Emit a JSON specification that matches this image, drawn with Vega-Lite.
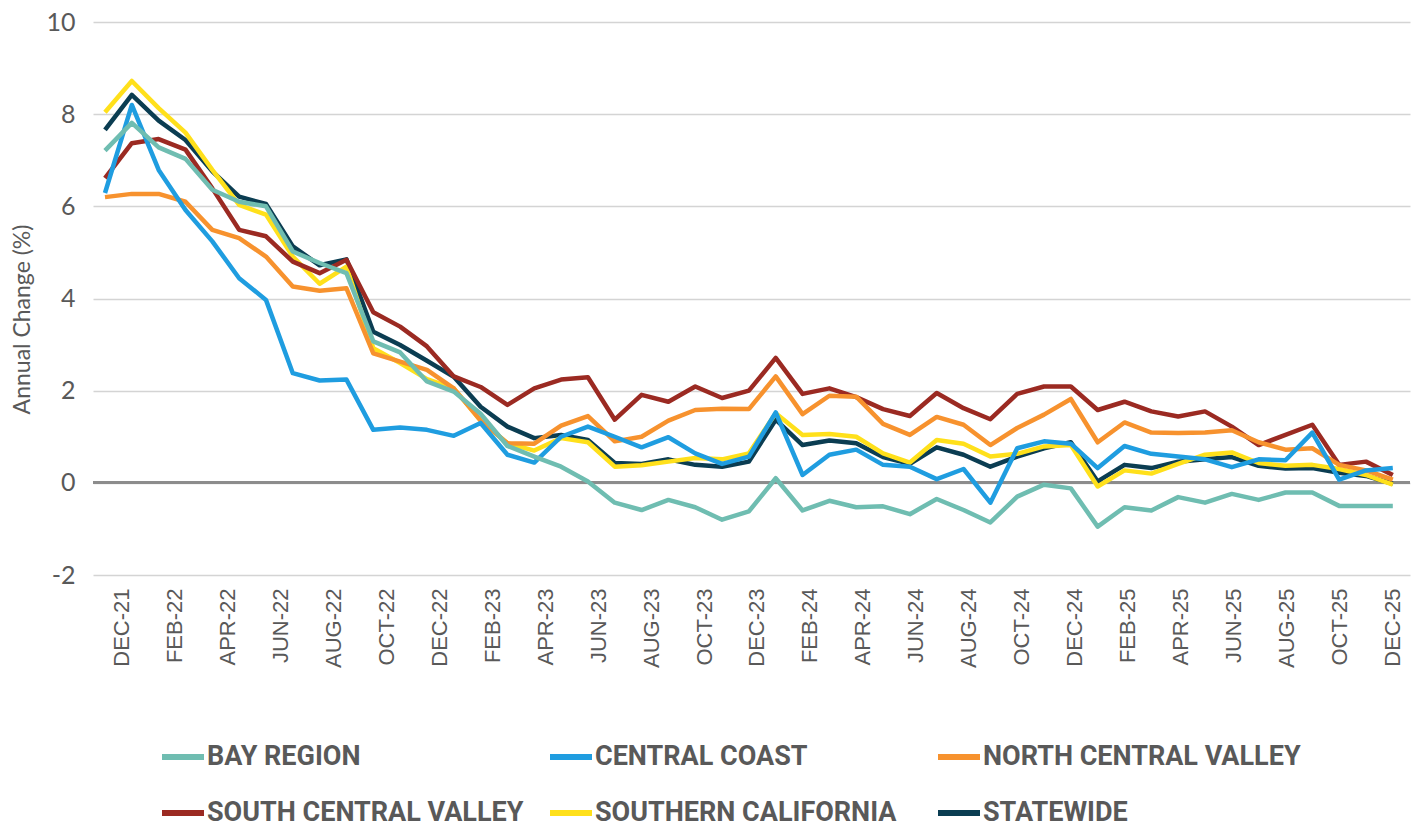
{
  "$schema": "https://vega.github.io/schema/vega-lite/v6.json",
  "width": 1317,
  "height": 553,
  "autosize": {"type": "none"},
  "padding": {"left": 93, "top": 22, "right": 4, "bottom": 253},
  "background": "white",
  "config": {"view": {"stroke": null}, "font": "Lato"},
  "datasets": {
    "rows": [
      {"i": 0, "month": "DEC-21", "BAY REGION": 7.21, "CENTRAL COAST": 6.29, "NORTH CENTRAL VALLEY": 6.2, "SOUTH CENTRAL VALLEY": 6.61, "SOUTHERN CALIFORNIA": 8.04, "STATEWIDE": 7.66},
      {"i": 1, "month": "JAN-22", "BAY REGION": 7.81, "CENTRAL COAST": 8.2, "NORTH CENTRAL VALLEY": 6.27, "SOUTH CENTRAL VALLEY": 7.37, "SOUTHERN CALIFORNIA": 8.72, "STATEWIDE": 8.42},
      {"i": 2, "month": "FEB-22", "BAY REGION": 7.28, "CENTRAL COAST": 6.79, "NORTH CENTRAL VALLEY": 6.27, "SOUTH CENTRAL VALLEY": 7.46, "SOUTHERN CALIFORNIA": 8.13, "STATEWIDE": 7.86},
      {"i": 3, "month": "MAR-22", "BAY REGION": 7.03, "CENTRAL COAST": 5.92, "NORTH CENTRAL VALLEY": 6.1, "SOUTH CENTRAL VALLEY": 7.23, "SOUTHERN CALIFORNIA": 7.6, "STATEWIDE": 7.44},
      {"i": 4, "month": "APR-22", "BAY REGION": 6.36, "CENTRAL COAST": 5.24, "NORTH CENTRAL VALLEY": 5.49, "SOUTH CENTRAL VALLEY": 6.39, "SOUTHERN CALIFORNIA": 6.79, "STATEWIDE": 6.76},
      {"i": 5, "month": "MAY-22", "BAY REGION": 6.1, "CENTRAL COAST": 4.44, "NORTH CENTRAL VALLEY": 5.31, "SOUTH CENTRAL VALLEY": 5.49, "SOUTHERN CALIFORNIA": 6.03, "STATEWIDE": 6.21},
      {"i": 6, "month": "JUN-22", "BAY REGION": 6.0, "CENTRAL COAST": 3.97, "NORTH CENTRAL VALLEY": 4.91, "SOUTH CENTRAL VALLEY": 5.35, "SOUTHERN CALIFORNIA": 5.82, "STATEWIDE": 6.05},
      {"i": 7, "month": "JUL-22", "BAY REGION": 5.02, "CENTRAL COAST": 2.38, "NORTH CENTRAL VALLEY": 4.26, "SOUTH CENTRAL VALLEY": 4.8, "SOUTHERN CALIFORNIA": 4.91, "STATEWIDE": 5.13},
      {"i": 8, "month": "AUG-22", "BAY REGION": 4.77, "CENTRAL COAST": 2.22, "NORTH CENTRAL VALLEY": 4.17, "SOUTH CENTRAL VALLEY": 4.55, "SOUTHERN CALIFORNIA": 4.32, "STATEWIDE": 4.72},
      {"i": 9, "month": "SEP-22", "BAY REGION": 4.55, "CENTRAL COAST": 2.24, "NORTH CENTRAL VALLEY": 4.22, "SOUTH CENTRAL VALLEY": 4.84, "SOUTHERN CALIFORNIA": 4.69, "STATEWIDE": 4.85},
      {"i": 10, "month": "OCT-22", "BAY REGION": 3.07, "CENTRAL COAST": 1.15, "NORTH CENTRAL VALLEY": 2.81, "SOUTH CENTRAL VALLEY": 3.7, "SOUTHERN CALIFORNIA": 2.92, "STATEWIDE": 3.28},
      {"i": 11, "month": "NOV-22", "BAY REGION": 2.83, "CENTRAL COAST": 1.2, "NORTH CENTRAL VALLEY": 2.63, "SOUTH CENTRAL VALLEY": 3.39, "SOUTHERN CALIFORNIA": 2.6, "STATEWIDE": 2.99},
      {"i": 12, "month": "DEC-22", "BAY REGION": 2.2, "CENTRAL COAST": 1.15, "NORTH CENTRAL VALLEY": 2.45, "SOUTH CENTRAL VALLEY": 2.96, "SOUTHERN CALIFORNIA": 2.25, "STATEWIDE": 2.65},
      {"i": 13, "month": "JAN-23", "BAY REGION": 1.98, "CENTRAL COAST": 1.02, "NORTH CENTRAL VALLEY": 2.05, "SOUTH CENTRAL VALLEY": 2.31, "SOUTHERN CALIFORNIA": 2.05, "STATEWIDE": 2.3},
      {"i": 14, "month": "FEB-23", "BAY REGION": 1.5, "CENTRAL COAST": 1.3, "NORTH CENTRAL VALLEY": 1.35, "SOUTH CENTRAL VALLEY": 2.08, "SOUTHERN CALIFORNIA": 1.35, "STATEWIDE": 1.65},
      {"i": 15, "month": "MAR-23", "BAY REGION": 0.8, "CENTRAL COAST": 0.61, "NORTH CENTRAL VALLEY": 0.86, "SOUTH CENTRAL VALLEY": 1.69, "SOUTHERN CALIFORNIA": 0.86, "STATEWIDE": 1.22},
      {"i": 16, "month": "APR-23", "BAY REGION": 0.57, "CENTRAL COAST": 0.44, "NORTH CENTRAL VALLEY": 0.85, "SOUTH CENTRAL VALLEY": 2.05, "SOUTHERN CALIFORNIA": 0.7, "STATEWIDE": 0.97},
      {"i": 17, "month": "MAY-23", "BAY REGION": 0.35, "CENTRAL COAST": 1.0, "NORTH CENTRAL VALLEY": 1.24, "SOUTH CENTRAL VALLEY": 2.24, "SOUTHERN CALIFORNIA": 0.97, "STATEWIDE": 1.04},
      {"i": 18, "month": "JUN-23", "BAY REGION": 0.03, "CENTRAL COAST": 1.22, "NORTH CENTRAL VALLEY": 1.45, "SOUTH CENTRAL VALLEY": 2.29, "SOUTHERN CALIFORNIA": 0.88, "STATEWIDE": 0.93},
      {"i": 19, "month": "JUL-23", "BAY REGION": -0.43, "CENTRAL COAST": 1.0, "NORTH CENTRAL VALLEY": 0.9, "SOUTH CENTRAL VALLEY": 1.37, "SOUTHERN CALIFORNIA": 0.35, "STATEWIDE": 0.43},
      {"i": 20, "month": "AUG-23", "BAY REGION": -0.59, "CENTRAL COAST": 0.77, "NORTH CENTRAL VALLEY": 1.0, "SOUTH CENTRAL VALLEY": 1.91, "SOUTHERN CALIFORNIA": 0.38, "STATEWIDE": 0.41},
      {"i": 21, "month": "SEP-23", "BAY REGION": -0.37, "CENTRAL COAST": 0.99, "NORTH CENTRAL VALLEY": 1.35, "SOUTH CENTRAL VALLEY": 1.76, "SOUTHERN CALIFORNIA": 0.46, "STATEWIDE": 0.51},
      {"i": 22, "month": "OCT-23", "BAY REGION": -0.53, "CENTRAL COAST": 0.64, "NORTH CENTRAL VALLEY": 1.58, "SOUTH CENTRAL VALLEY": 2.09, "SOUTHERN CALIFORNIA": 0.54, "STATEWIDE": 0.39},
      {"i": 23, "month": "NOV-23", "BAY REGION": -0.8, "CENTRAL COAST": 0.41, "NORTH CENTRAL VALLEY": 1.61, "SOUTH CENTRAL VALLEY": 1.84, "SOUTHERN CALIFORNIA": 0.51, "STATEWIDE": 0.35},
      {"i": 24, "month": "DEC-23", "BAY REGION": -0.62, "CENTRAL COAST": 0.57, "NORTH CENTRAL VALLEY": 1.6, "SOUTH CENTRAL VALLEY": 2.0, "SOUTHERN CALIFORNIA": 0.64, "STATEWIDE": 0.46},
      {"i": 25, "month": "JAN-24", "BAY REGION": 0.1, "CENTRAL COAST": 1.53, "NORTH CENTRAL VALLEY": 2.31, "SOUTH CENTRAL VALLEY": 2.71, "SOUTHERN CALIFORNIA": 1.51, "STATEWIDE": 1.37},
      {"i": 26, "month": "FEB-24", "BAY REGION": -0.6, "CENTRAL COAST": 0.17, "NORTH CENTRAL VALLEY": 1.49, "SOUTH CENTRAL VALLEY": 1.93, "SOUTHERN CALIFORNIA": 1.04, "STATEWIDE": 0.82},
      {"i": 27, "month": "MAR-24", "BAY REGION": -0.39, "CENTRAL COAST": 0.61, "NORTH CENTRAL VALLEY": 1.89, "SOUTH CENTRAL VALLEY": 2.05, "SOUTHERN CALIFORNIA": 1.06, "STATEWIDE": 0.92},
      {"i": 28, "month": "APR-24", "BAY REGION": -0.53, "CENTRAL COAST": 0.72, "NORTH CENTRAL VALLEY": 1.87, "SOUTH CENTRAL VALLEY": 1.86, "SOUTHERN CALIFORNIA": 1.0, "STATEWIDE": 0.86},
      {"i": 29, "month": "MAY-24", "BAY REGION": -0.51, "CENTRAL COAST": 0.39, "NORTH CENTRAL VALLEY": 1.28, "SOUTH CENTRAL VALLEY": 1.6, "SOUTHERN CALIFORNIA": 0.64, "STATEWIDE": 0.56},
      {"i": 30, "month": "JUN-24", "BAY REGION": -0.68, "CENTRAL COAST": 0.35, "NORTH CENTRAL VALLEY": 1.04, "SOUTH CENTRAL VALLEY": 1.45, "SOUTHERN CALIFORNIA": 0.44, "STATEWIDE": 0.41},
      {"i": 31, "month": "JUL-24", "BAY REGION": -0.35, "CENTRAL COAST": 0.08, "NORTH CENTRAL VALLEY": 1.43, "SOUTH CENTRAL VALLEY": 1.95, "SOUTHERN CALIFORNIA": 0.93, "STATEWIDE": 0.77},
      {"i": 32, "month": "AUG-24", "BAY REGION": -0.59, "CENTRAL COAST": 0.3, "NORTH CENTRAL VALLEY": 1.26, "SOUTH CENTRAL VALLEY": 1.62, "SOUTHERN CALIFORNIA": 0.85, "STATEWIDE": 0.61},
      {"i": 33, "month": "SEP-24", "BAY REGION": -0.86, "CENTRAL COAST": -0.43, "NORTH CENTRAL VALLEY": 0.82, "SOUTH CENTRAL VALLEY": 1.38, "SOUTHERN CALIFORNIA": 0.57, "STATEWIDE": 0.35},
      {"i": 34, "month": "OCT-24", "BAY REGION": -0.3, "CENTRAL COAST": 0.75, "NORTH CENTRAL VALLEY": 1.19, "SOUTH CENTRAL VALLEY": 1.93, "SOUTHERN CALIFORNIA": 0.63, "STATEWIDE": 0.57},
      {"i": 35, "month": "NOV-24", "BAY REGION": -0.04, "CENTRAL COAST": 0.9, "NORTH CENTRAL VALLEY": 1.48, "SOUTH CENTRAL VALLEY": 2.09, "SOUTHERN CALIFORNIA": 0.79, "STATEWIDE": 0.75},
      {"i": 36, "month": "DEC-24", "BAY REGION": -0.12, "CENTRAL COAST": 0.85, "NORTH CENTRAL VALLEY": 1.82, "SOUTH CENTRAL VALLEY": 2.09, "SOUTHERN CALIFORNIA": 0.82, "STATEWIDE": 0.88},
      {"i": 37, "month": "JAN-25", "BAY REGION": -0.95, "CENTRAL COAST": 0.32, "NORTH CENTRAL VALLEY": 0.88, "SOUTH CENTRAL VALLEY": 1.58, "SOUTHERN CALIFORNIA": -0.08, "STATEWIDE": 0.03},
      {"i": 38, "month": "FEB-25", "BAY REGION": -0.53, "CENTRAL COAST": 0.8, "NORTH CENTRAL VALLEY": 1.31, "SOUTH CENTRAL VALLEY": 1.76, "SOUTHERN CALIFORNIA": 0.27, "STATEWIDE": 0.39},
      {"i": 39, "month": "MAR-25", "BAY REGION": -0.6, "CENTRAL COAST": 0.63, "NORTH CENTRAL VALLEY": 1.09, "SOUTH CENTRAL VALLEY": 1.55, "SOUTHERN CALIFORNIA": 0.2, "STATEWIDE": 0.32},
      {"i": 40, "month": "APR-25", "BAY REGION": -0.31, "CENTRAL COAST": 0.57, "NORTH CENTRAL VALLEY": 1.08, "SOUTH CENTRAL VALLEY": 1.44, "SOUTHERN CALIFORNIA": 0.41, "STATEWIDE": 0.46},
      {"i": 41, "month": "MAY-25", "BAY REGION": -0.43, "CENTRAL COAST": 0.51, "NORTH CENTRAL VALLEY": 1.09, "SOUTH CENTRAL VALLEY": 1.55, "SOUTHERN CALIFORNIA": 0.61, "STATEWIDE": 0.51},
      {"i": 42, "month": "JUN-25", "BAY REGION": -0.24, "CENTRAL COAST": 0.34, "NORTH CENTRAL VALLEY": 1.14, "SOUTH CENTRAL VALLEY": 1.22, "SOUTHERN CALIFORNIA": 0.66, "STATEWIDE": 0.56},
      {"i": 43, "month": "JUL-25", "BAY REGION": -0.37, "CENTRAL COAST": 0.51, "NORTH CENTRAL VALLEY": 0.88, "SOUTH CENTRAL VALLEY": 0.82, "SOUTHERN CALIFORNIA": 0.43, "STATEWIDE": 0.37},
      {"i": 44, "month": "AUG-25", "BAY REGION": -0.21, "CENTRAL COAST": 0.49, "NORTH CENTRAL VALLEY": 0.72, "SOUTH CENTRAL VALLEY": 1.04, "SOUTHERN CALIFORNIA": 0.37, "STATEWIDE": 0.31},
      {"i": 45, "month": "SEP-25", "BAY REGION": -0.21, "CENTRAL COAST": 1.09, "NORTH CENTRAL VALLEY": 0.75, "SOUTH CENTRAL VALLEY": 1.26, "SOUTHERN CALIFORNIA": 0.39, "STATEWIDE": 0.32},
      {"i": 46, "month": "OCT-25", "BAY REGION": -0.5, "CENTRAL COAST": 0.07, "NORTH CENTRAL VALLEY": 0.39, "SOUTH CENTRAL VALLEY": 0.39, "SOUTHERN CALIFORNIA": 0.3, "STATEWIDE": 0.22},
      {"i": 47, "month": "NOV-25", "BAY REGION": -0.5, "CENTRAL COAST": 0.27, "NORTH CENTRAL VALLEY": 0.27, "SOUTH CENTRAL VALLEY": 0.46, "SOUTHERN CALIFORNIA": 0.17, "STATEWIDE": 0.15},
      {"i": 48, "month": "DEC-25", "BAY REGION": -0.5, "CENTRAL COAST": 0.32, "NORTH CENTRAL VALLEY": 0.07, "SOUTH CENTRAL VALLEY": 0.17, "SOUTHERN CALIFORNIA": -0.04, "STATEWIDE": -0.02}
    ]
  },
  "data": {"name": "rows"},
  "layer": [
    {
      "mark": {"type": "rule", "color": "#8c8c8c", "strokeWidth": 2.5},
      "encoding": {
        "y": {"datum": 0, "type": "quantitative", "scale": {"domain": [-2, 10], "nice": false}}
      }
    },
    {
      "transform": [
        {"fold": ["STATEWIDE", "SOUTHERN CALIFORNIA", "SOUTH CENTRAL VALLEY", "NORTH CENTRAL VALLEY", "CENTRAL COAST", "BAY REGION"], "as": ["region", "value"]}
      ],
      "mark": {"type": "line", "strokeWidth": 4.5, "strokeJoin": "round"},
      "encoding": {
        "x": {
          "field": "month", "type": "ordinal",
          "sort": {"field": "i", "op": "min"},
          "scale": {"type": "point", "padding": 0.544, "align": 0.411},
          "axis": null
        },
        "y": {
          "field": "value", "type": "quantitative",
          "scale": {"domain": [-2, 10], "nice": false},
          "axis": {
            "values": [-2, 0, 2, 4, 6, 8, 10],
            "labelExpr": "'' + datum.value",
            "title": "Annual Change (%)",
            "titleFont": "Lato", "titleFontSize": 23, "titleFontWeight": "normal", "titleColor": "#595959",
            "titleAngle": 270, "titleAlign": "center", "titleBaseline": "middle",
            "titleX": -71, "titleY": 297,
            "labelFont": "Lato", "labelFontSize": 25, "labelColor": "#595959", "labelPadding": 18,
            "domain": false, "ticks": false,
            "grid": true, "gridColor": "#d4d4d4", "gridWidth": 1.5
          }
        },
        "color": {
          "field": "region", "type": "nominal",
          "scale": {
            "domain": ["BAY REGION", "CENTRAL COAST", "NORTH CENTRAL VALLEY", "SOUTH CENTRAL VALLEY", "SOUTHERN CALIFORNIA", "STATEWIDE"],
            "range": ["#6fbdb1", "#1f9de0", "#f7922e", "#9b2a22", "#ffe01b", "#0b3d52"]
          },
          "legend": {
            "title": null, "orient": "none", "legendX": 66, "legendY": 711,
            "direction": "horizontal", "columns": 3, "gridAlign": "all",
            "symbolType": "stroke", "symbolSize": 1764, "symbolStrokeWidth": 6,
            "labelFont": "Roboto", "labelFontSize": 27, "labelFontWeight": "bold",
            "labelColor": "#595959", "labelOffset": 0, "labelLimit": 0,
            "columnPadding": 13, "rowPadding": 19, "padding": 0
          }
        },
        "order": {"field": "i", "type": "quantitative"}
      }
    },
    {
      "mark": {"type": "point", "opacity": 0},
      "encoding": {
        "x": {
          "field": "month", "type": "ordinal",
          "sort": {"field": "i", "op": "min"},
          "scale": {"type": "point", "padding": 0.888, "align": 0.617},
          "axis": {
            "values": ["DEC-21", "FEB-22", "APR-22", "JUN-22", "AUG-22", "OCT-22", "DEC-22", "FEB-23", "APR-23", "JUN-23", "AUG-23", "OCT-23", "DEC-23", "FEB-24", "APR-24", "JUN-24", "AUG-24", "OCT-24", "DEC-24", "FEB-25", "APR-25", "JUN-25", "AUG-25", "OCT-25", "DEC-25"],
            "title": null, "labelAngle": 270,
            "labelFont": "Liberation Sans", "labelFontSize": 22, "labelColor": "#595959", "labelPadding": 13,
            "domain": false, "ticks": false, "grid": false
          }
        }
      }
    }
  ],
  "resolve": {"scale": {"x": "independent"}}
}
